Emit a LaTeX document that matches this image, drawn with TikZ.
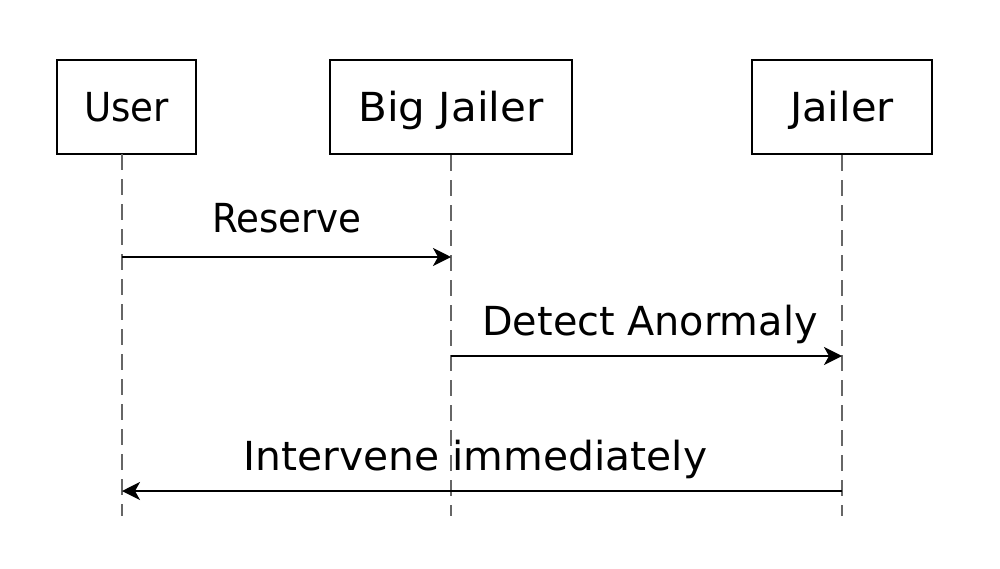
\documentclass[tikz,border=0pt]{standalone}
\usepackage{fontspec}
\setmainfont{DejaVu Sans}
\usetikzlibrary{arrows.meta}
\newcommand\lfont[1]{\fontsize{40}{44}\selectfont\addfontfeature{FakeStretch=#1}}
\begin{document}
\begin{tikzpicture}[x=1pt,y=-1pt,
  actor/.style={draw=black,line width=2.2pt,minimum height=94pt,inner sep=0pt,text height=30pt,text depth=2pt},
  lifeline/.style={draw=black!60,line width=1.5pt,dash pattern=on 16pt off 9pt},
  msg/.style={draw=black,line width=2.2pt,-{Stealth[length=18pt,width=18pt,inset=5pt]}},
  lbl/.style={anchor=base,inner sep=0pt}]
\useasboundingbox[fill=white] (0,0) rectangle (1000,568);
\node[actor,minimum width=139pt,font=\lfont{0.93}] (user) at (126.5,107) {User};
\node[actor,minimum width=242pt,font=\lfont{1.05}] (big) at (451,107) {Big Jailer};
\node[actor,minimum width=180pt,font=\lfont{1.04}] (jail) at (842,107) {Jailer};
\coordinate (uTop) at (122,154);
\coordinate (uBot) at (122,516);
\coordinate (bBot) at (451,516);
\coordinate (jBot) at (842,516);
\draw[lifeline] (uTop) -- (uBot);
\draw[lifeline] (big.south) -- (bBot);
\draw[lifeline] (jail.south) -- (jBot);
\coordinate (r1) at (122,257);
\coordinate (r2) at (451,257);
\coordinate (d1) at (451,356);
\coordinate (d2) at (842,356);
\coordinate (i1) at (842,491);
\coordinate (i2) at (122,491);
\draw[msg] (r1) -- (r2);
\draw[msg] (d1) -- (d2);
\draw[msg] (i1) -- (i2);
\node[lbl,font=\lfont{0.93}] (lr) at (287,232.5) {Reserve};
\node[lbl,font=\lfont{0.994}] (ld) at (650,335.5) {Detect Anormaly};
\node[lbl,font=\lfont{1.02}] (li) at (475.5,470) {Intervene immediately};
\end{tikzpicture}
\end{document}
